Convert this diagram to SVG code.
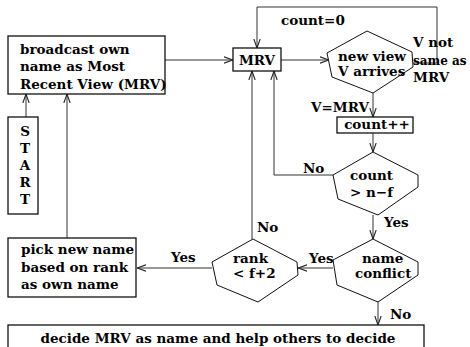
<svg xmlns="http://www.w3.org/2000/svg" width="470" height="347" viewBox="0 0 470 347">
<defs>
<marker id="arr" viewBox="0 0 10 10" refX="10" refY="5" markerWidth="9" markerHeight="9" markerUnits="userSpaceOnUse" orient="auto">
<path d="M0,1.5 L10,5 L0,8.5" fill="none" stroke="#222" stroke-width="1.2"/>
</marker>
<style>
.box{fill:#fff;stroke:#111;stroke-width:1.3}
.hex{fill:#fff;stroke:#111;stroke-width:1}
.con{fill:none;stroke:#333;stroke-width:1}
text{font-family:"DejaVu Serif","Liberation Serif",serif;font-weight:bold;font-size:13.5px;fill:#000}
.c{text-anchor:middle}
.s{font-size:12px}
</style>
</defs>
<rect width="470" height="347" fill="#fff"/>
<g id="connectors">
<polyline class="con" points="165,60 233,60" marker-end="url(#arr)"/>
<polyline class="con" points="26,117 26,94" marker-end="url(#arr)"/>
<polyline class="con" points="67,238 67,94" marker-end="url(#arr)"/>
<polyline class="con" points="281,60 329,60" marker-end="url(#arr)"/>
<polyline class="con" points="413,63 437,63 437,7 257,7 257,48" marker-end="url(#arr)"/>
<polyline class="con" points="373,93 373,117" marker-end="url(#arr)"/>
<polyline class="con" points="373,133 373,152" marker-end="url(#arr)"/>
<polyline class="con" points="333,175 274,175 274,71" marker-end="url(#arr)"/>
<polyline class="con" points="373,215 373,239" marker-end="url(#arr)"/>
<polyline class="con" points="333,268 298,268" marker-end="url(#arr)"/>
<polyline class="con" points="252,239 252,71" marker-end="url(#arr)"/>
<polyline class="con" points="212,268 137,268" marker-end="url(#arr)"/>
<polyline class="con" points="378,302 378,325" marker-end="url(#arr)"/>
</g>
<g id="broadcast">
<rect class="box" x="8" y="36" width="157" height="58"/>
<text x="20" y="54">broadcast own</text>
<text x="20" y="71">name as Most</text>
<text x="20" y="89">Recent View (MRV)</text>
</g>
<g id="start">
<rect class="box" x="8" y="117" width="30" height="97"/>
<text class="c" x="25" y="136">S</text>
<text class="c" x="25" y="153">T</text>
<text class="c" x="25" y="170">A</text>
<text class="c" x="25" y="187">R</text>
<text class="c" x="25" y="204">T</text>
</g>
<g id="mrv">
<rect class="box" x="233" y="48" width="48" height="23"/>
<text class="c" x="257" y="65">MRV</text>
</g>
<g id="newview">
<polygon class="hex" points="367,31 412,52 413,67 373,93 332,77 327,53"/>
<text x="338" y="61">new view</text>
<text x="338" y="76">V arrives</text>
</g>
<g id="countpp">
<rect class="box" x="337" y="117" width="76" height="16"/>
<text class="c" x="377" y="129">count++</text>
</g>
<g id="countcmp">
<polygon class="hex" points="373,152 418,175 418,187 378,215 338,199 333,175"/>
<text x="350" y="180">count</text>
<text x="350" y="197">&gt; n−f</text>
</g>
<g id="conflict">
<polygon class="hex" points="373,239 418,262 418,275 378,302 337,285 333,260"/>
<text x="362" y="263">name</text>
<text x="355" y="278">conflict</text>
</g>
<g id="rank">
<polygon class="hex" points="253,239 297,262 298,275 258,302 217,285 212,262"/>
<text x="233" y="263">rank</text>
<text x="233" y="278">&lt; f+2</text>
</g>
<g id="pick">
<rect class="box" x="8" y="238" width="128" height="59"/>
<text x="21" y="254">pick new name</text>
<text x="21" y="272">based on rank</text>
<text x="21" y="289">as own name</text>
</g>
<g id="decide">
<rect class="box" x="8" y="325" width="416" height="26"/>
<text class="c" x="218" y="343">decide MRV as name and help others to decide</text>
</g>
<g id="labels">
<text x="281" y="25">count=0</text>
<text x="413" y="47">V not</text>
<text class="s" x="413" y="65">same as</text>
<text x="413" y="82">MRV</text>
<text x="311" y="112">V=MRV</text>
<text x="303" y="173">No</text>
<text x="384" y="227">Yes</text>
<text x="309" y="263">Yes</text>
<text x="257" y="232">No</text>
<text x="171" y="262">Yes</text>
<text x="390" y="319">No</text>
</g>
</svg>
